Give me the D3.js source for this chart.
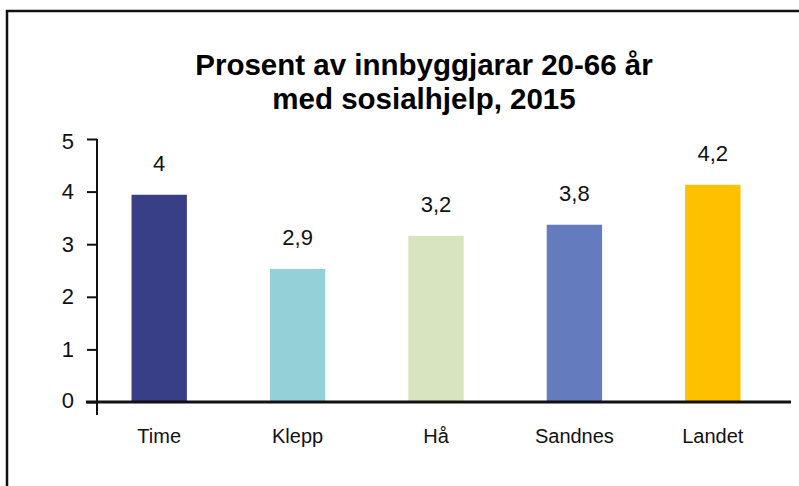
<!DOCTYPE html>
<html>
<head>
<meta charset="utf-8">
<script src="https://cdn.jsdelivr.net/npm/d3@7"></script>
<style>
  body { margin: 0; background: #fff; }
  svg { display: block; }
</style>
</head>
<body>
<div id="chart"></div>
<script>
const categories = ["Time", "Klepp", "Hå", "Sandnes", "Landet"];
const values = [3.94, 2.53, 3.16, 3.37, 4.13];
const valueLabels = ["4", "2,9", "3,2", "3,8", "4,2"];
const colors = ["#383f86", "#94d1d6", "#d8e4c0", "#647bbd", "#ffc000"];
const yTicks = [0, 1, 2, 3, 4, 5];

const width = 799;
const height = 486;
const margin = {top: 139, right: 17, bottom: 84, left: 97};
const font = "Liberation Sans, Arial, sans-serif";

const svg = d3.select("#chart").append("svg")
    .attr("width", width)
    .attr("height", height)
    .attr("font-family", font);

// outer frame (runs off the right and bottom edges)
svg.append("rect")
    .attr("x", 7).attr("y", 11)
    .attr("width", width + 20).attr("height", height + 20)
    .attr("fill", "none")
    .attr("stroke", "#111")
    .attr("stroke-width", 2.5);

svg.append("text")
    .attr("text-anchor", "middle")
    .attr("font-size", 29.5).attr("font-weight", "bold")
  .selectAll("tspan")
  .data(["Prosent av innbyggjarar 20-66 år", "med sosialhjelp, 2015"])
  .join("tspan")
    .attr("x", 424)
    .attr("y", (d, i) => 75 + i * 34)
    .text(d => d);

const x = d3.scaleBand()
    .domain(categories)
    .range([90, 782])
    .paddingInner(0.6)
    .paddingOuter(0.3);

const y = d3.scaleLinear()
    .domain([0, 5])
    .range([height - margin.bottom, margin.top]);

const y0 = y(0);

svg.selectAll("rect.bar")
  .data(categories)
  .join("rect")
    .attr("class", "bar")
    .attr("x", d => x(d))
    .attr("y", (d, i) => y(values[i]))
    .attr("width", x.bandwidth())
    .attr("height", (d, i) => y0 - y(values[i]))
    .attr("fill", (d, i) => colors[i]);

svg.selectAll("text.val")
  .data(categories)
  .join("text")
    .attr("class", "val")
    .attr("x", d => x(d) + x.bandwidth() / 2)
    .attr("y", (d, i) => y(values[i]) - 24)
    .attr("text-anchor", "middle")
    .attr("font-size", 22)
    .attr("fill", "#111")
    .text((d, i) => valueLabels[i]);

// y axis
const yAxis = svg.append("g")
    .attr("transform", `translate(${margin.left},0)`)
    .call(d3.axisLeft(y).tickValues(yTicks).tickSize(10).tickPadding(13).tickFormat(d3.format("d")));
yAxis.select(".domain").remove();
yAxis.append("line")
    .attr("x1", 0).attr("x2", 0)
    .attr("y1", margin.top).attr("y2", y0 + 13)
    .attr("stroke", "#111").attr("stroke-width", 2);
yAxis.selectAll(".tick line").attr("stroke", "#111").attr("stroke-width", 2);
yAxis.selectAll(".tick text")
    .attr("font-size", 22)
    .attr("font-family", font)
    .attr("fill", "#111")
    .attr("dy", (d, i) => i === 0 ? "0.25em" : i === yTicks.length - 1 ? "0.45em" : "0.32em");

// x axis
const xAxis = svg.append("g")
    .attr("transform", `translate(0,${y0})`)
    .call(d3.axisBottom(x).tickSize(0).tickPadding(27));
xAxis.select(".domain").remove();
xAxis.append("line")
    .attr("x1", 86).attr("x2", 791)
    .attr("stroke", "#111").attr("stroke-width", 3);
xAxis.selectAll(".tick text")
    .attr("font-size", 20)
    .attr("font-family", font)
    .attr("fill", "#111");
</script>
</body>
</html>
